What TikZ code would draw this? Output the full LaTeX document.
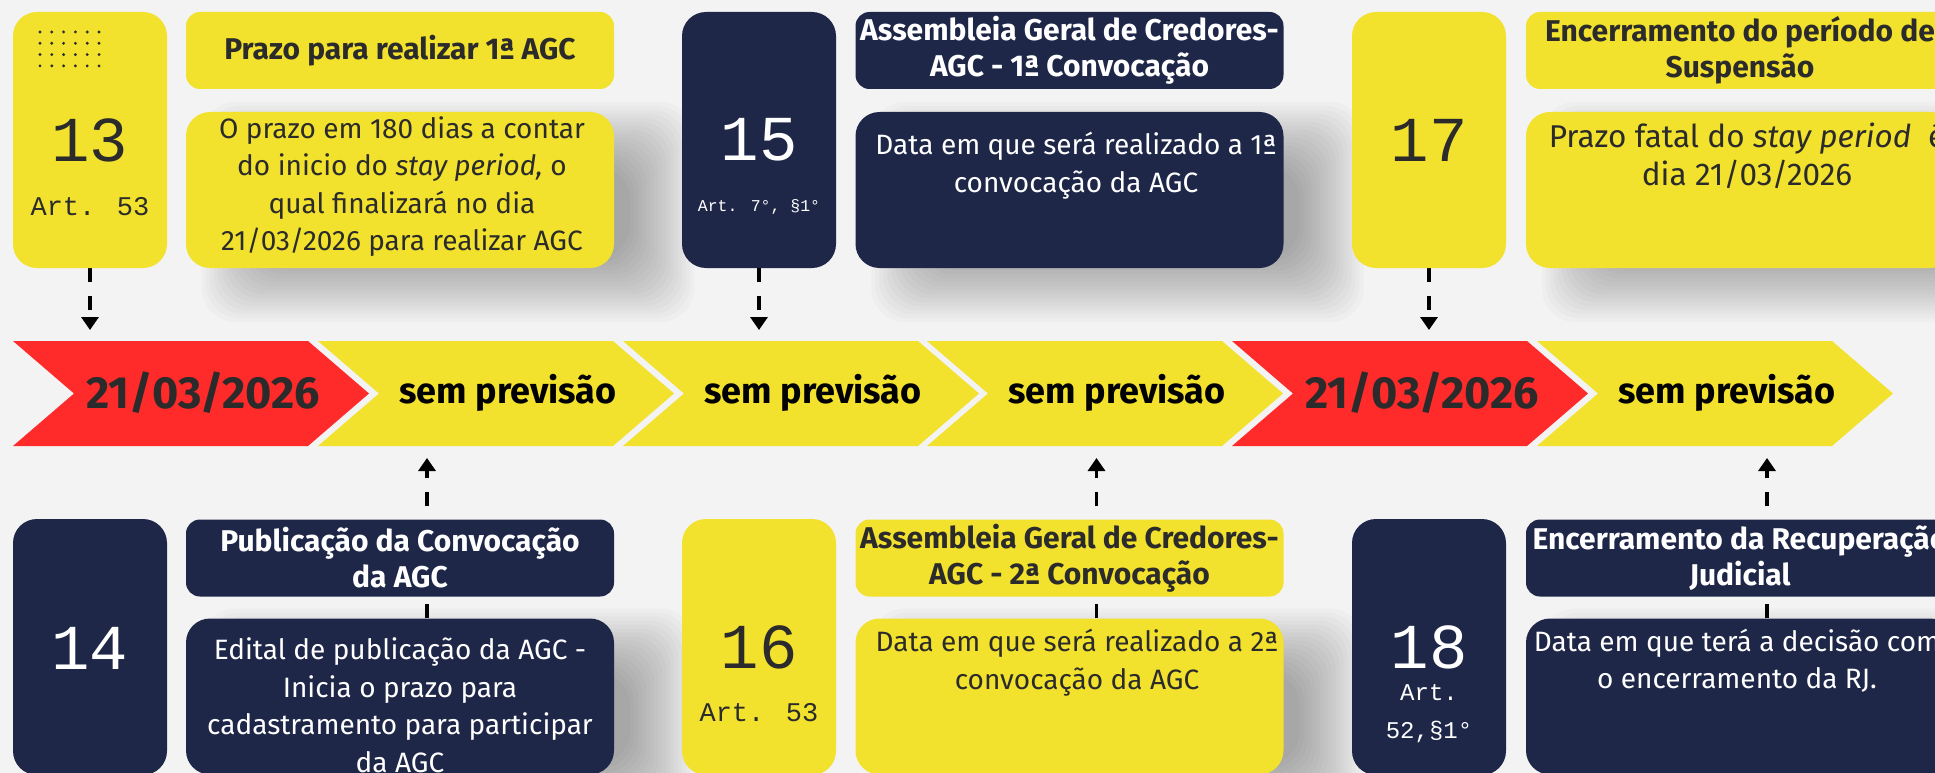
\documentclass[tikz,border=0pt]{standalone}
\usepackage{fontspec}
\setmainfont{Fira Sans}
\newfontfamily\numfont{Liberation Mono}
\usetikzlibrary{arrows.meta}

\definecolor{ybg}{HTML}{F2E12D}
\definecolor{navy}{HTML}{1F2749}
\definecolor{redc}{HTML}{FF2A2A}
\definecolor{ink}{HTML}{2B2B2B}
\definecolor{paper}{HTML}{F3F3F3}

\pgfdeclarelayer{bg}
\pgfsetlayers{bg,main}

\newcommand\datum{\fontsize{45}{45}\selectfont 21/03/2026}

\tikzset{
  numbox/.style={rounded corners=24pt, minimum width=154pt, minimum height=256pt, inner sep=0pt},
  titlebox/.style={rounded corners=14pt, minimum width=428pt, minimum height=77pt, inner sep=0pt},
  descbox/.style={rounded corners=24pt, minimum width=428pt, minimum height=156pt, inner sep=0pt},
  onyellow/.style={fill=ybg, text=ink},
  onnavy/.style={fill=navy, text=white},
  bignum/.style={font=\numfont\fontsize{64}{64}\selectfont, inner sep=0pt},
  arttxt/.style={font=\numfont\fontsize{27}{38}\selectfont, align=center, inner sep=0pt},
  titletxt/.style={font=\bfseries\fontsize{30}{36}\selectfont, align=center},
  desctxt/.style={font=\fontsize{28}{37.5}\selectfont, align=center, inner sep=0pt},
  chevtxt/.style={font=\bfseries\fontsize{36}{36}\selectfont, inner sep=0pt},
  dasharrow/.style={line width=3.5pt, dash pattern=on 14pt off 14pt, -{Triangle[width=17pt,length=13pt]}},
}

\begin{document}
\begin{tikzpicture}[x=1pt, y=-1pt]
  \useasboundingbox (0,0) rectangle (1935,773);

  % timeline
  \foreach \x/\col/\tc/\txt [count=\i] in {13/redc/ink/\datum, 318/ybg/black/sem previsão,
      623/ybg/black/sem previsão, 927/ybg/black/sem previsão, 1232/redc/ink/\datum, 1537/ybg/black/sem previsão}
    {
      \fill[\col] (\x,341) -- ++(295,0) -- ++(61,52.5) -- ++(-61,52.5) -- ++(-295,0) -- ++(61,-52.5) -- cycle;
      \node[chevtxt, text=\tc] (c\i) at (\x+190,393) {\txt};
    }
  \coordinate (top) at (0,341);
  \coordinate (bot) at (0,446);

  % top row
  \node[numbox, onyellow] (n13) at (90,140) {};
  \node[bignum, text=ink] (num13) at (90,140) {13};
  \node[arttxt, text=ink] (art13) at (90,207) {Art. 53};
  \foreach \i in {0,...,5}
    \foreach \j in {0,...,3}
      \fill[ink] (40+\i*11.8, 32+\j*11.3) circle (1.6pt);
  \node[titlebox, onyellow, titletxt] (t13) at (400,50.5) {Prazo para realizar 1ª AGC};
  \node[descbox, onyellow] (d13) at (400,190) {};
  \node[desctxt, text=ink] (x13) at (402,186.5) {O prazo em 180 dias a contar\\do inicio do \textit{stay period,} o\\qual finalizará no dia\\21/03/2026 para realizar AGC};

  \node[numbox, onnavy] (n15) at (759,140) {};
  \node[bignum, text=white] (num15) at (759,140) {15};
  \node[arttxt, text=white, font=\numfont\fontsize{16.5}{20}\selectfont] (art15) at (759,207) {Art. 7°, §1°};
  \node[titlebox, onnavy, titletxt] (t15) at (1069.5,50.5) {Assembleia Geral de Credores-\\AGC - 1ª Convocação};
  \node[descbox, onnavy] (d15) at (1069.5,190) {};
  \node[desctxt, text=white] (x15) at (1076,165.5) {Data em que será realizado a 1ª\\convocação da AGC};

  \node[numbox, onyellow] (n17) at (1429,140) {};
  \node[bignum, text=ink] (num17) at (1429,140) {17};
  \node[titlebox, onyellow, titletxt] (t17) at (1740,50.5) {Encerramento do período de\\Suspensão};
  \node[descbox, onyellow] (d17) at (1740,190) {};
  \node[desctxt, text=ink, font=\fontsize{31.5}{38}\selectfont] (x17) at (1747,156) {Prazo fatal do \textit{stay period}\ \ é\\dia 21/03/2026};

  % bottom row
  \node[numbox, onnavy] (n14) at (90,647) {};
  \node[bignum, text=white] (num14) at (90,648) {14};
  \node[titlebox, onnavy, titletxt] (t14) at (400,558) {Publicação da Convocação\\da AGC};
  \node[descbox, onnavy] (d14) at (400,696.5) {};
  \node[desctxt, text=white] (x14) at (400,705) {Edital de publicação da AGC -\\Inicia o prazo para\\cadastramento para participar\\da AGC};

  \node[numbox, onyellow] (n16) at (759,647) {};
  \node[bignum, text=ink] (num16) at (759,647) {16};
  \node[arttxt, text=ink] (art16) at (759,713) {Art. 53};
  \node[titlebox, onyellow, titletxt] (t16) at (1069.5,558) {Assembleia Geral de Credores-\\AGC - 2ª Convocação};
  \node[descbox, onyellow] (d16) at (1069.5,696.5) {};
  \node[desctxt, text=ink] (x16) at (1077,662.5) {Data em que será realizado a 2ª\\convocação da AGC};

  \node[numbox, onnavy] (n18) at (1429,647) {};
  \node[bignum, text=white] (num18) at (1429,647) {18};
  \node[arttxt, text=white, font=\numfont\fontsize{24}{38}\selectfont] (art18) at (1429,714) {Art.\\52,§1°};
  \node[titlebox, onnavy, titletxt] (t18) at (1740,558) {Encerramento da Recuperação\\Judicial};
  \node[descbox, onnavy] (d18) at (1740,696.5) {};
  \node[desctxt, text=white] (x18) at (1737,660.5) {Data em que terá a decisão com\\o encerramento da RJ.};

  \begin{pgfonlayer}{bg}
    \fill[paper] (0,0) rectangle (1935,773);
    % soft shadows
    \foreach \b in {d13,d15,d17,d14,d16,d18}
      \foreach \e in {-32,-28,...,32}
        \fill[black, opacity=0.02, rounded corners=34pt]
          ([shift={(48-\e,22-\e)}]\b.north west) rectangle ([shift={(48+\e,22+\e)}]\b.south east);
    % dashed pointers
    \foreach \n in {n13,n15,n17}
      \draw[dasharrow, shorten >=11pt] (\n.south) -- (\n.south |- top);
    \foreach \d in {d14,d16,d18}
      \draw[dasharrow, shorten >=12pt] ([xshift=27pt]\d.north) -- ([xshift=27pt]\d.north |- bot);
  \end{pgfonlayer}
\end{tikzpicture}
\end{document}
